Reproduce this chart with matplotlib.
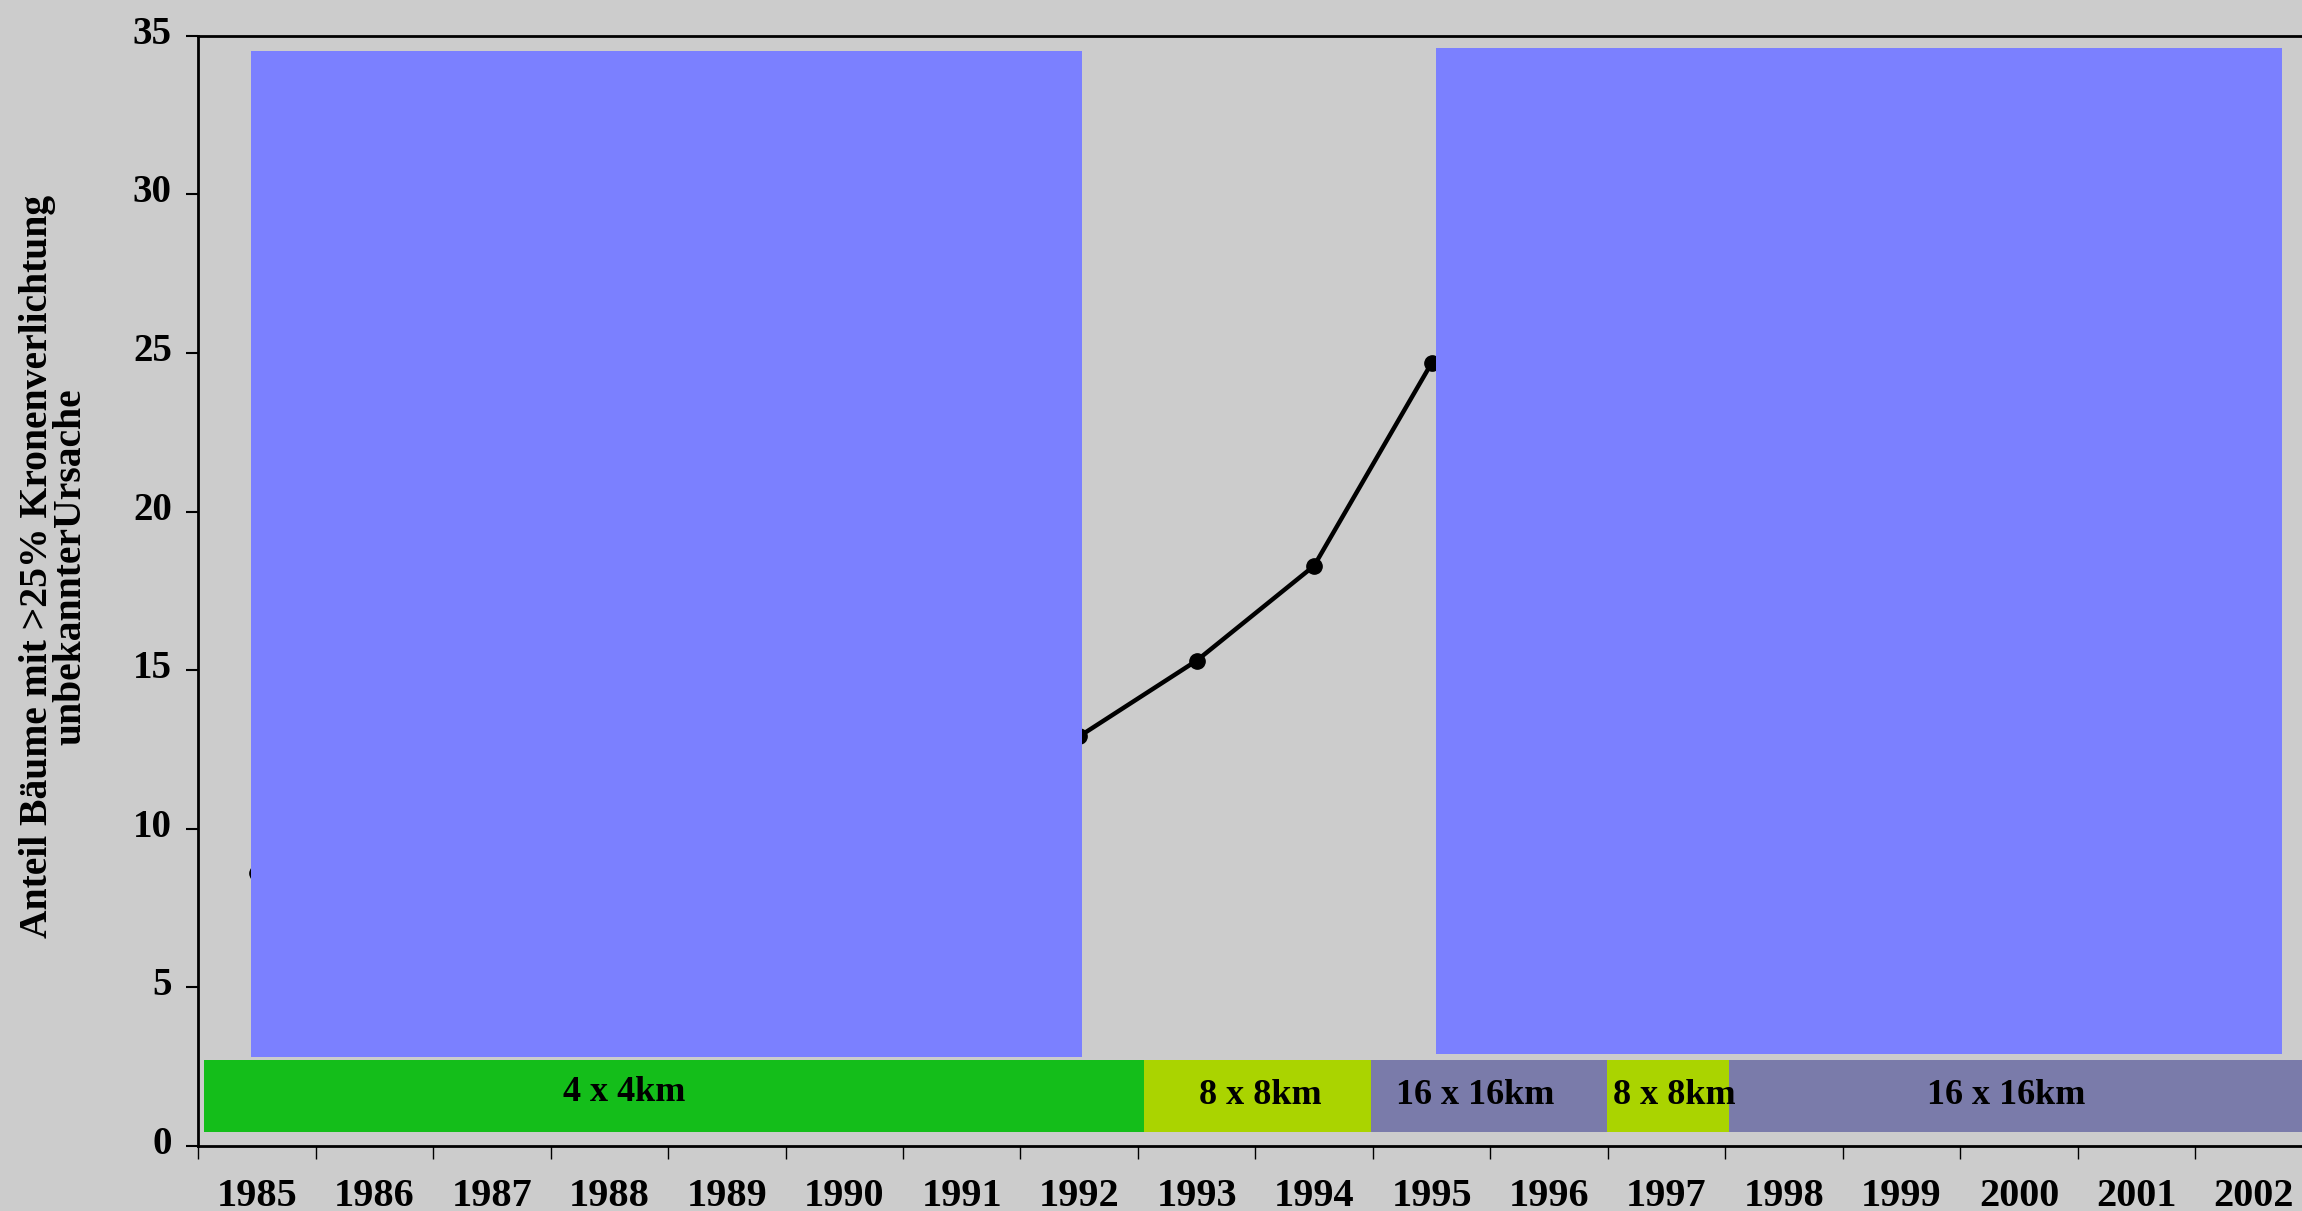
import numpy as np
import matplotlib
matplotlib.use('Agg')
import matplotlib.pyplot as plt
from matplotlib.transforms import ScaledTranslation

plt.rcParams['font.family'] = ['Liberation Serif', 'DejaVu Serif']
plt.rcParams['font.weight'] = 'bold'

# visible points of the series (the rest is hidden behind the blue panels)
years = [1985, 1992, 1993, 1994, 1995]
share = [8.59, 12.91, 15.30, 18.29, 24.68]

year_labels = [str(y) for y in range(1985, 2003)]
y_ticks = [0, 5, 10, 15, 20, 25, 30, 35]

# sampling grid bands along the bottom
grid_start = [1984.55, 1992.55, 1994.485, 1996.49, 1997.53]
grid_end = [1992.55, 1994.485, 1996.49, 1997.53, 2002.6]
grid_names = ['4 x 4km', '8 x 8km', '16 x 16km', '8 x 8km', '16 x 16km']
grid_label_x = [1988.13, 1993.54, 1995.37, 1997.07, 1999.89]
grid_label_y = [1.68, 1.60, 1.60, 1.60, 1.60]
grid_colors = ['#14be1a', '#aad400', '#7a7baa', '#aad400', '#7a7baa']
band_low = 0.45
band_high = 2.71

# blue panels covering the chart
panel_left = [1984.95, 1995.04]
panel_right = [1992.02, 2002.24]
panel_bottom = [2.81, 2.90]
panel_top = [34.52, 34.60]

bg = '#cccccc'
fig = plt.figure(figsize=(23.02, 12.11), dpi=100, facecolor=bg)
ax = fig.add_axes([0.0861, 0.0537, 1 - 0.0861, 0.9705 - 0.0537])
ax.set_facecolor(bg)

ax.plot(years, share, color='black', lw=3.2, marker='o', ms=11, zorder=2)

widths = [e - s for s, e in zip(grid_start, grid_end)]
ax.bar(grid_start, [band_high - band_low] * len(widths), width=widths, bottom=band_low,
       align='edge', color=grid_colors, linewidth=0, zorder=3)
for x, y, name in zip(grid_label_x, grid_label_y, grid_names):
    ax.text(x, y, name, ha='center', va='center', fontsize=26, zorder=5)

pw = [r - l for l, r in zip(panel_left, panel_right)]
ph = [t - b for b, t in zip(panel_bottom, panel_top)]
ax.bar(panel_left, ph, width=pw, bottom=panel_bottom, align='edge',
       color='#7b80ff', linewidth=0, zorder=4)

ax.set_xlim(1984.5, 2002.41)
ax.set_ylim(0, 35)

ax.spines['right'].set_visible(False)
for s in ['left', 'bottom', 'top']:
    ax.spines[s].set_linewidth(2)

ax.set_xticks(np.arange(1984.5, 2002.0, 1))
ax.set_xticks(np.arange(1985, 2003), minor=True)
ax.set_xticklabels(year_labels, minor=True)
ax.tick_params(axis='x', which='major', length=9, width=1, labelbottom=False)
ax.tick_params(axis='x', which='minor', length=0, pad=23, labelsize=29)

ax.set_yticks(y_ticks)
ax.tick_params(axis='y', length=9, width=1.5, pad=10, labelsize=28)
offset = ScaledTranslation(0, 0.06, fig.dpi_scale_trans)
for lab in ax.get_yticklabels():
    lab.set_transform(lab.get_transform() + offset)

fig.text(0.0235, 0.532, 'Anteil Bäume mit >25% Kronenverlichtung\nunbekannterUrsache',
         rotation=90, ha='center', va='center', multialignment='center',
         fontsize=28.5, linespacing=0.88)

fig.savefig('out.png', dpi=100, facecolor=bg)
